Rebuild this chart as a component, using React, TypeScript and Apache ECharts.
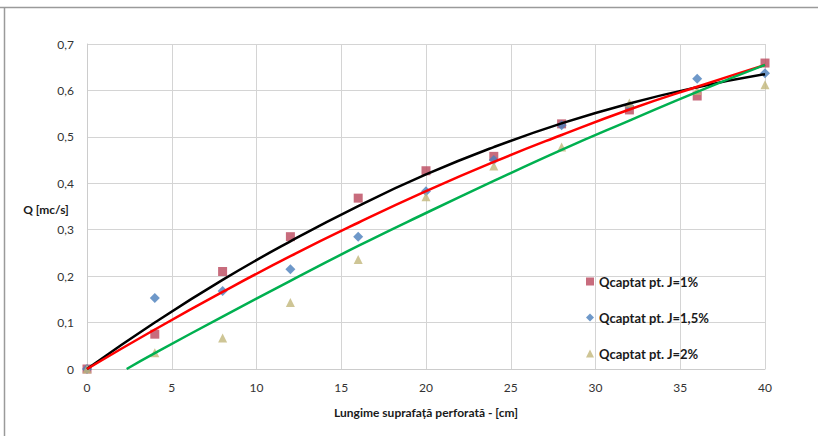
import React, { useEffect, useRef } from "react";
import * as echarts from "echarts";

const xValues = [0, 4, 8, 12, 16, 20, 24, 28, 32, 36, 40];
const q1 = [0, 0.075, 0.21, 0.285, 0.368, 0.427, 0.458, 0.528, 0.558, 0.588, 0.659];
const q15 = [0, 0.153, 0.168, 0.215, 0.285, 0.383, 0.45, 0.525, 0.566, 0.625, 0.637];
const q2 = [0, 0.035, 0.067, 0.143, 0.236, 0.371, 0.437, 0.478, 0.573, 0.6, 0.612];

// trend lines
const trend1 = [0, 0.1, 0.192, 0.275, 0.351, 0.419, 0.478, 0.529, 0.572, 0.607, 0.635];
const trend15 = [0, 0.085, 0.166, 0.243, 0.315, 0.383, 0.446, 0.504, 0.559, 0.608, 0.655];
const trend2X = [2.34, 4, 8, 12, 16, 20, 24, 28, 32, 36, 40];
const trend2 = [0, 0.034, 0.113, 0.19, 0.265, 0.336, 0.405, 0.472, 0.535, 0.597, 0.655];

const names = ["Qcaptat pt. J=1%", "Qcaptat pt. J=1,5%", "Qcaptat pt. J=2%"];
const FONT = "Lato, 'Open Sans', sans-serif";

export default function App() {
  const ref = useRef<HTMLDivElement>(null);
  useEffect(() => {
    document.body.style.margin = "0";
    const chart = echarts.init(ref.current!, null, { renderer: "svg" });
    const pair = (xs: number[], ys: number[]) => xs.map((x, i) => [x, ys[i]]);
    chart.setOption({
      animation: false,
      backgroundColor: "#ffffff",
      textStyle: { fontFamily: FONT },
      grid: { left: 87, right: 62, top: 44, bottom: 67 },
      graphic: [
        { type: "line", shape: { x1: 0, y1: 7.5, x2: 818, y2: 7.5 }, style: { stroke: "#9a9a9a", lineWidth: 1.5 } },
        { type: "line", shape: { x1: 4.5, y1: 7.5, x2: 4.5, y2: 436 }, style: { stroke: "#9a9a9a", lineWidth: 1.5 } },
        {
          type: "text",
          x: 46,
          y: 209,
          style: {
            text: "Q [mc/s]",
            font: `bold 12px ${FONT}`,
            fill: "#1a1a1a",
            textAlign: "center",
            textVerticalAlign: "middle",
          },
        },
      ],
      legend: {
        data: names,
        orient: "vertical",
        left: 581,
        top: 270,
        itemGap: 23,
        itemWidth: 8,
        itemHeight: 8,
        textStyle: { fontFamily: FONT, fontWeight: "bold", fontSize: 13, color: "#1a1a1a" },
      },
      xAxis: {
        type: "value",
        min: 0,
        max: 40,
        interval: 5,
        name: "Lungime suprafață perforată - [cm]",
        nameLocation: "middle",
        nameGap: 37,
        nameTextStyle: { fontFamily: FONT, fontWeight: "bold", fontSize: 12, color: "#1a1a1a" },
        axisLine: { lineStyle: { color: "#cccccc" } },
        axisTick: { show: false },
        axisLabel: { fontSize: 12, color: "#333333", margin: 12 },
        splitLine: { lineStyle: { color: "#d4d4d4" } },
      },
      yAxis: {
        type: "value",
        min: 0,
        max: 0.7,
        interval: 0.1,
        axisLine: { show: true, lineStyle: { color: "#cccccc" } },
        axisTick: { show: false },
        axisLabel: {
          fontSize: 12,
          color: "#333333",
          margin: 13,
          formatter: (v: number) => (v === 0 ? "0" : v.toFixed(1).replace(".", ",")),
        },
        splitLine: { lineStyle: { color: "#d4d4d4" } },
      },
      series: [
        {
          name: names[0],
          type: "scatter",
          symbol: "rect",
          symbolSize: 9,
          itemStyle: { color: "#BA475C" },
          data: pair(xValues, q1),
          z: 2,
        },
        {
          name: names[1],
          type: "scatter",
          symbol: "diamond",
          symbolSize: 10,
          itemStyle: { color: "#4A7EBB" },
          data: pair(xValues, q15),
          z: 2,
        },
        {
          name: names[2],
          type: "scatter",
          symbol: "triangle",
          symbolSize: 9,
          itemStyle: { color: "#C2B77A" },
          data: pair(xValues, q2),
          z: 2,
        },
        {
          type: "line",
          smooth: true,
          showSymbol: false,
          lineStyle: { color: "#000000", width: 2.5 },
          data: pair(xValues, trend1),
          z: 3,
        },
        {
          type: "line",
          smooth: true,
          showSymbol: false,
          lineStyle: { color: "#FF0000", width: 2.5 },
          data: pair(xValues, trend15),
          z: 3,
        },
        {
          type: "line",
          smooth: true,
          showSymbol: false,
          lineStyle: { color: "#00B050", width: 2.5 },
          data: pair(trend2X, trend2),
          z: 3,
        },
      ],
    });
    return () => chart.dispose();
  }, []);
  return <div ref={ref} style={{ width: 827, height: 436 }} />;
}
